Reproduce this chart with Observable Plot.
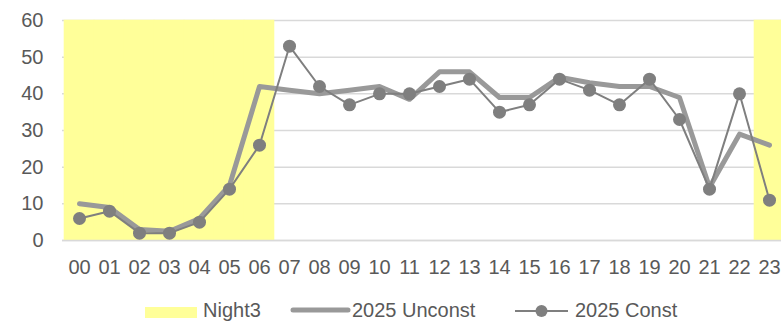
<!DOCTYPE html>
<html>
<head>
<meta charset="utf-8">
<script src="https://cdn.jsdelivr.net/npm/d3@7"></script>
<script src="https://cdn.jsdelivr.net/npm/@observablehq/plot@0.6"></script>
<style>
  html, body { margin: 0; padding: 0; background: #fff; overflow: hidden; }
  body { font-family: "Liberation Sans", Arial, sans-serif; color: #595959; width: 781px; height: 322px; }
  #chart svg { max-width: none !important; display: block; }
  #legend { position: relative; height: 32px; font-size: 20px; line-height: 20px; }
  #legend > * { position: absolute; }
</style>
</head>
<body>
<div id="chart"></div>
<div id="legend"></div>
<script>
const hours = ["00","01","02","03","04","05","06","07","08","09","10","11","12","13","14","15","16","17","18","19","20","21","22","23"];
const nightHours = ["00","01","02","03","04","05","06","23"];
const unconst = [10, 9, 3, 2.5, 6, 15, 42, 41, 40, 41, 42, 38.5, 46, 46, 39, 39, 44.5, 43, 42, 42, 39, 14.5, 29, 26];
const constVals = [6, 8, 2, 2, 5, 14, 26, 53, 42, 37, 40, 40, 42, 44, 35, 37, 44, 41, 37, 44, 33, 14, 40, 11];
const yTicks = [0, 10, 20, 30, 40, 50, 60];
const seriesNames = ["Night3", "2025 Unconst", "2025 Const"];

const rows = hours.map((h, i) => ({hour: h, unconst: unconst[i], cons: constVals[i]}));

const chart = Plot.plot({
  width: 785,
  height: 290,
  marginLeft: 62,
  marginRight: 0,
  marginTop: 20,
  marginBottom: 50,
  style: {fontFamily: "'Liberation Sans', Arial, sans-serif", fontSize: "20px", color: "#595959", background: "white", overflow: "visible"},
  x: {type: "band", domain: hours, padding: 0, label: null},
  y: {domain: [0, 60], label: null},
  marks: [
    Plot.gridY(yTicks, {stroke: "#d9d9d9", strokeOpacity: 1, strokeWidth: 1.5}),
    Plot.barY(nightHours, {x: d => d, y1: 0, y2: 60, fill: "#ffff99", stroke: "#ffff99", strokeWidth: 0.6}),
    Plot.ruleY([0], {stroke: "#d9d9d9", strokeWidth: 1.5}),
    Plot.axisY(yTicks, {tickSize: 0, tickPadding: 19, fill: "#595959"}),
    Plot.axisX({tickSize: 0, tickPadding: 19, fill: "#595959"}),
    Plot.lineY(rows, {x: "hour", y: "unconst", stroke: "#999999", strokeWidth: 5}),
    Plot.lineY(rows, {x: "hour", y: "cons", stroke: "#7f7f7f", strokeWidth: 2}),
    Plot.dot(rows, {x: "hour", y: "cons", r: 6.5, fill: "#7f7f7f", stroke: "none"})
  ]
});
document.getElementById("chart").appendChild(chart);

const legend = document.getElementById("legend");
legend.innerHTML = `
  <svg style="left:145px;top:17px" width="52" height="11"><rect x="0" y="0" width="52" height="11" fill="#ffff99"/></svg>
  <span style="left:203px;top:10px">${seriesNames[0]}</span>
  <svg style="left:290px;top:14px" width="61" height="12"><line x1="3" y1="6" x2="58" y2="6" stroke="#999999" stroke-width="5" stroke-linecap="round"/></svg>
  <span style="left:352px;top:10px">${seriesNames[1]}</span>
  <svg style="left:515px;top:14px" width="54" height="14"><line x1="0" y1="7" x2="53" y2="7" stroke="#7f7f7f" stroke-width="2"/><circle cx="26.5" cy="7" r="6" fill="#7f7f7f"/></svg>
  <span style="left:575px;top:10px">${seriesNames[2]}</span>`;
</script>
</body>
</html>
